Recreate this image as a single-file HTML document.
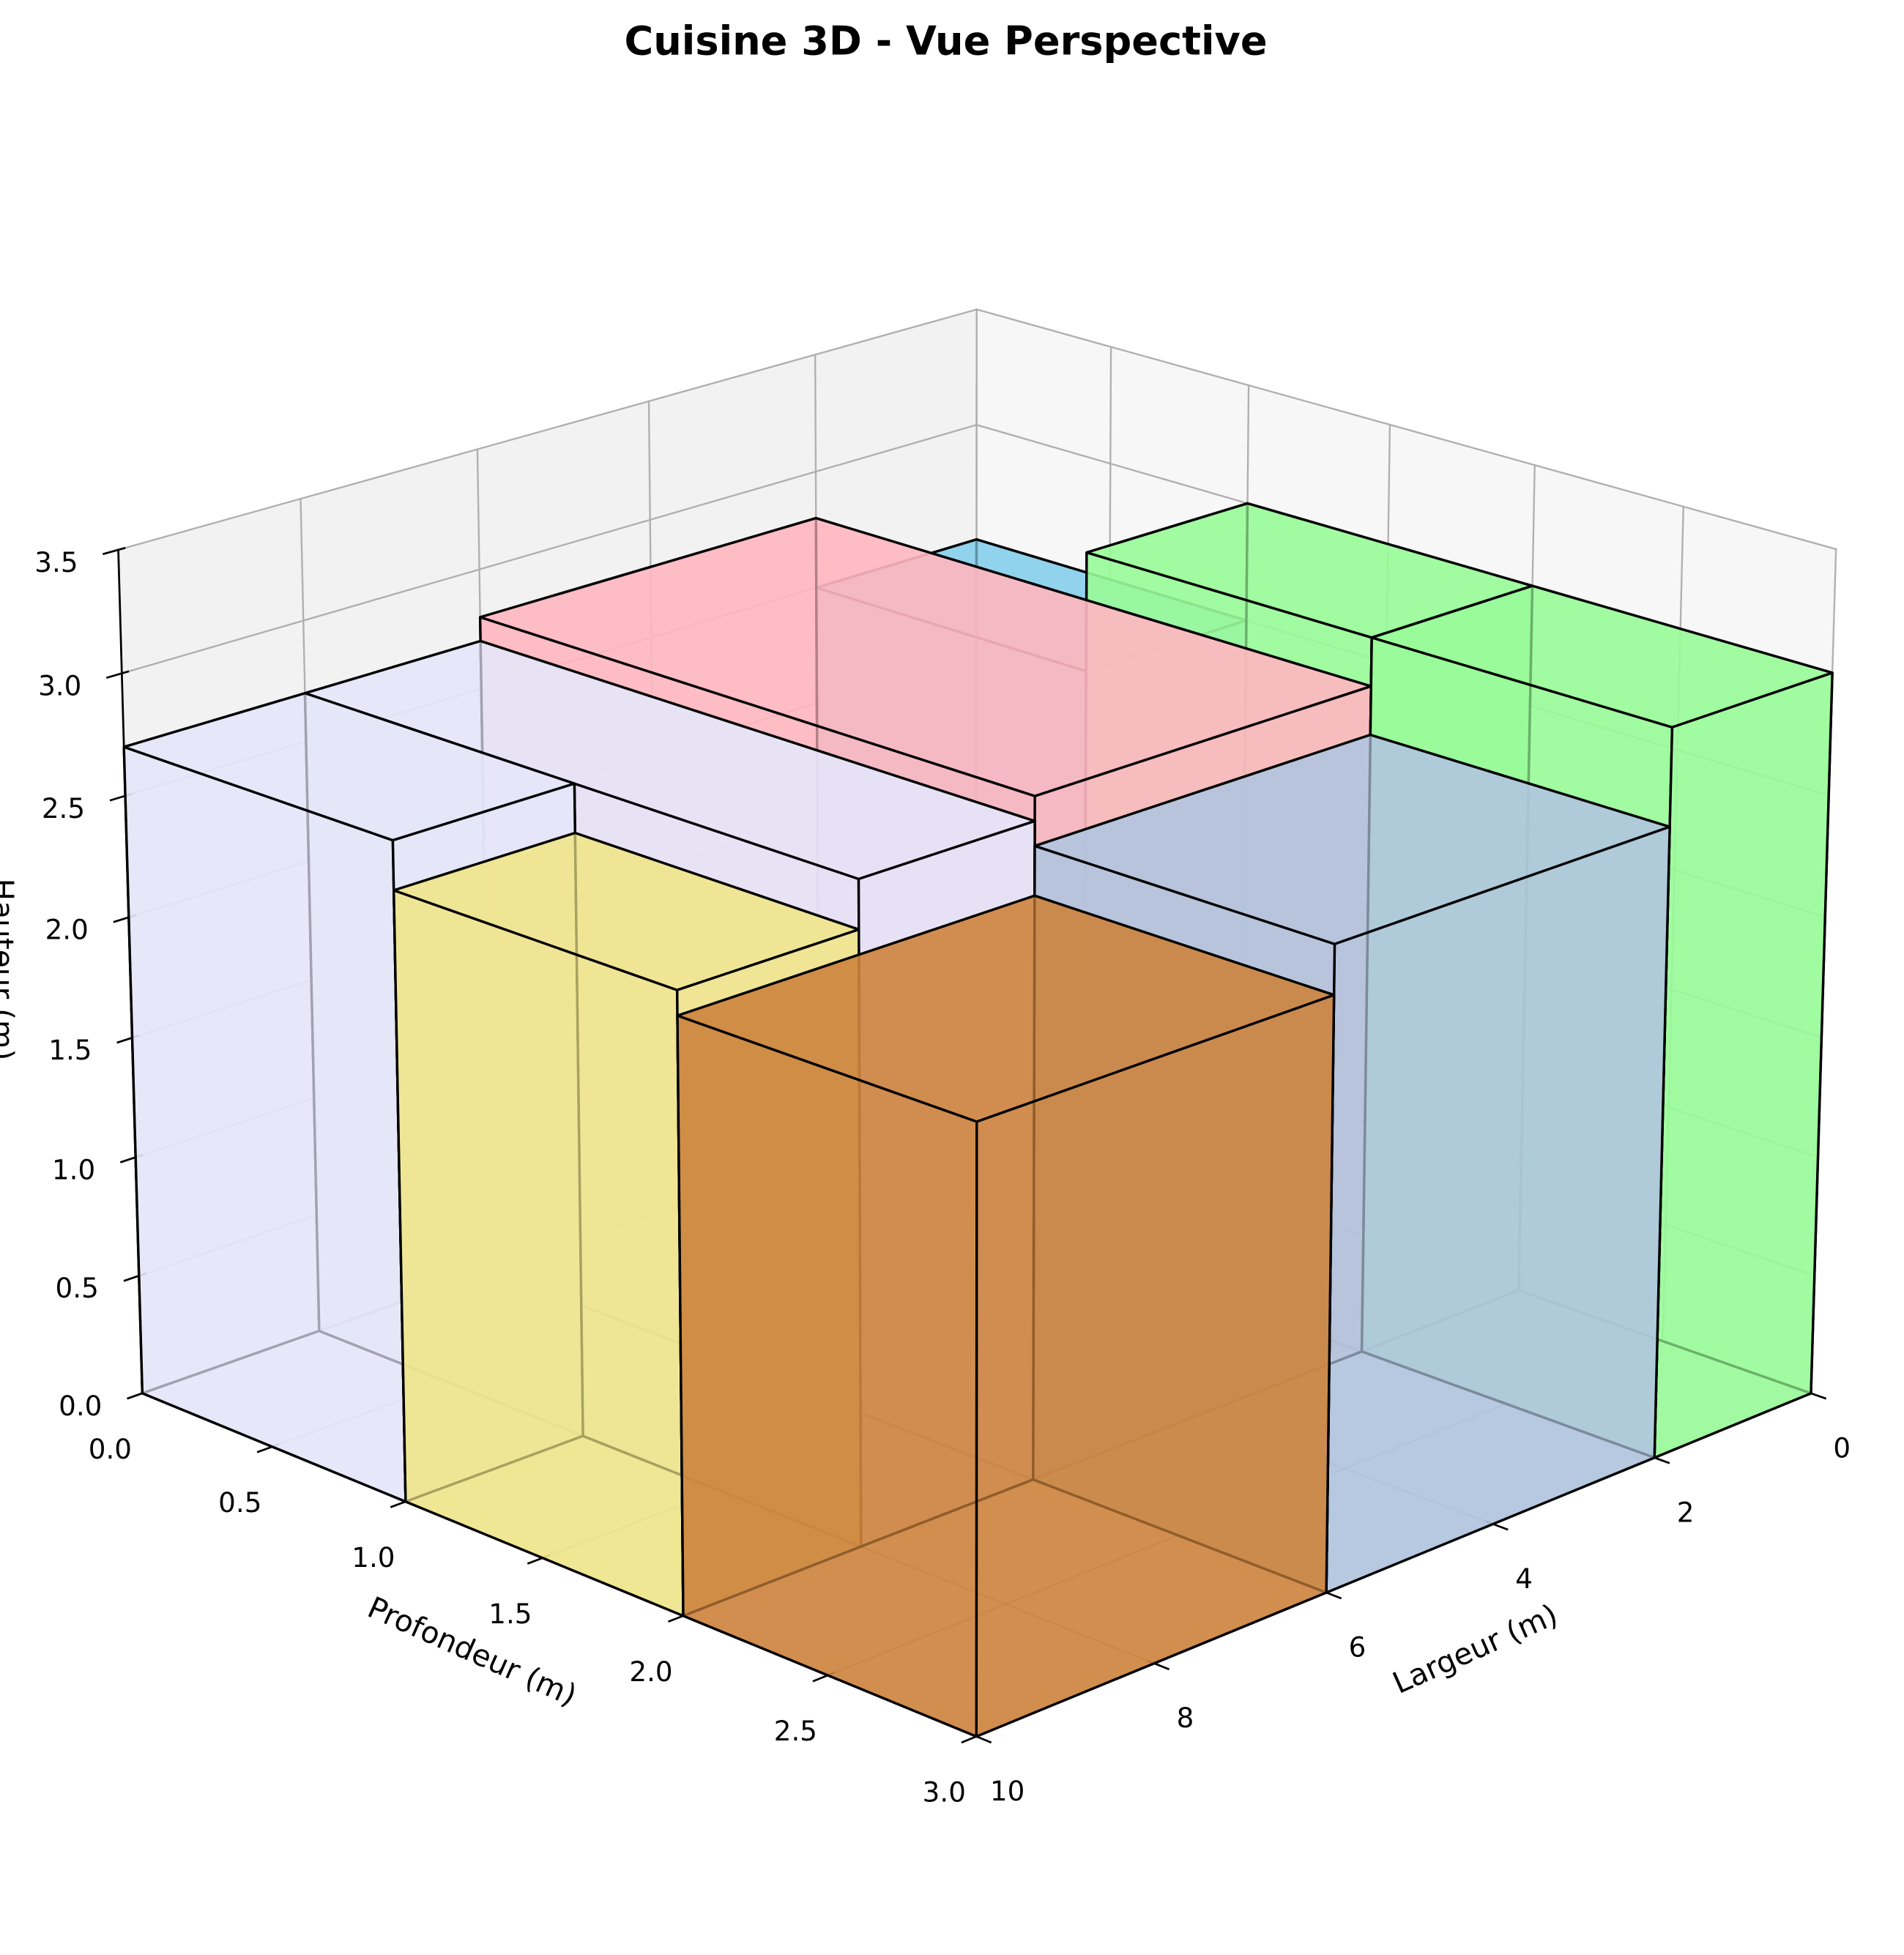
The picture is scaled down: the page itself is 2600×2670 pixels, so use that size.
<!DOCTYPE html>
<html>
<head>
<meta charset="utf-8">
<style>
  html, body { margin: 0; padding: 0; background: #ffffff; }
  #chart { display: block; }
  text { font-family: "DejaVu Sans", "Liberation Sans", sans-serif; fill: #000; }
</style>
</head>
<body>
<svg id="chart" xmlns="http://www.w3.org/2000/svg" width="2600" height="2670" viewBox="0 0 1536 1577" preserveAspectRatio="none">
  <rect x="0" y="0" width="1536" height="1577" fill="#ffffff"/>
  <text x="763" y="44" text-anchor="middle" font-size="32" font-weight="bold">Cuisine 3D - Vue Perspective</text>
  <g id="panes"></g>
  <g id="grid"></g>
  <g id="axes"></g>
  <g id="boxes"></g>
  <g id="labels"></g>
  <text x="381" y="1332" text-anchor="middle" dominant-baseline="central" font-size="24" transform="rotate(24 381 1332)">Profondeur (m)</text>
  <text x="1190" y="1330" text-anchor="middle" dominant-baseline="central" font-size="24" transform="rotate(-24 1190 1330)">Largeur (m)</text>
  <text x="2" y="782" text-anchor="middle" dominant-baseline="central" font-size="24" transform="rotate(90 2 782)">Hauteur (m)</text>
</svg>
<script>
// ---- chart data (kitchen components) ----
const boxLabels = ['lavande-1', 'lavande-2', 'rose', 'bleu-ciel', 'vert-1', 'vert-2', 'acier-clair', 'kaki', 'peru'];
const boxX  = [8, 6, 2, 0, 0, 0, 2, 8, 6];
const boxDX = [2, 2, 4, 2, 2, 2, 4, 2, 4];
const boxY  = [0, 0, 0, 0, 1, 2, 2, 1, 2];
const boxDY = [1, 2, 2, 1, 1, 1, 1, 1, 1];
const boxZ  = [0, 0, 0, 0, 0, 0, 0, 0, 0];
const boxDZ = [2.7, 2.7, 2.8, 2.5, 3.0, 3.0, 2.6, 2.5, 2.4];
const boxColors = ['#E6E6FA', '#E6E6FA', '#FFB6C1', '#87CEEB', '#98FB98', '#98FB98', '#B0C4DE', '#F0E68C', '#CD853F'];
const xTicks = [0, 2, 4, 6, 8, 10];
const xTickLabels = ['0', '2', '4', '6', '8', '10'];
const yTicks = [0, 0.5, 1, 1.5, 2, 2.5, 3];
const yTickLabels = ['0.0', '0.5', '1.0', '1.5', '2.0', '2.5', '3.0'];
const zTicks = [0, 0.5, 1, 1.5, 2, 2.5, 3, 3.5];
const zTickLabels = ['0.0', '0.5', '1.0', '1.5', '2.0', '2.5', '3.0', '3.5'];
const xLim = [0, 10], yLim = [0, 3], zLim = [0, 3.5];

// ---- projection calibration (axis-box corners -> screen) ----
const calibWorld = [[10,0,0],[10,3,0],[0,3,0],[10,0,3.5],[0,0,3.5],[0,3,3.5],[10,1,0],[10,2,0],[10,0,0.5]];
const calibScreen = [[115,1123],[788,1401],[1461,1124],[95.5,443.4],[788,249.5],[1481,443],[327,1211],[551,1303],[112,1030.5]];

function solveLinear(M, b) {
  const n = b.length;
  const A = M.map((r, i) => r.concat([b[i]]));
  for (let c = 0; c < n; c++) {
    let piv = c;
    for (let r = c + 1; r < n; r++) if (Math.abs(A[r][c]) > Math.abs(A[piv][c])) piv = r;
    [A[c], A[piv]] = [A[piv], A[c]];
    for (let r = 0; r < n; r++) {
      if (r === c) continue;
      const f = A[r][c] / A[c][c];
      for (let k = c; k <= n; k++) A[r][k] -= f * A[c][k];
    }
  }
  return A.map((r, i) => r[n] / r[i]);
}
function fitCamera() {
  const rows = [], rhs = [];
  calibWorld.forEach((P, i) => {
    const [X, Y, Z] = P, [u, v] = calibScreen[i];
    rows.push([X, Y, Z, 1, 0, 0, 0, 0, -u * X, -u * Y, -u * Z]); rhs.push(u);
    rows.push([0, 0, 0, 0, X, Y, Z, 1, -v * X, -v * Y, -v * Z]); rhs.push(v);
  });
  const N = 11, AtA = [], Atb = [];
  for (let i = 0; i < N; i++) {
    AtA.push(new Array(N).fill(0)); Atb.push(0);
    for (let r = 0; r < rows.length; r++) {
      Atb[i] += rows[r][i] * rhs[r];
      for (let j = 0; j < N; j++) AtA[i][j] += rows[r][i] * rows[r][j];
    }
  }
  return solveLinear(AtA, Atb);
}
const cam = fitCamera();
function proj(X, Y, Z) {
  const w = cam[8] * X + cam[9] * Y + cam[10] * Z + 1;
  return [(cam[0] * X + cam[1] * Y + cam[2] * Z + cam[3]) / w,
          (cam[4] * X + cam[5] * Y + cam[6] * Z + cam[7]) / w];
}
function depth(X, Y, Z) { return Math.abs(cam[8] * X + cam[9] * Y + cam[10] * Z + 1); }

const NS = 'http://www.w3.org/2000/svg';
function mk(tag, parent) { const e = document.createElementNS(NS, tag); parent.appendChild(e); return e; }
function ptsStr(list) { return list.map(p => { const s = proj(p[0], p[1], p[2]); return s[0].toFixed(2) + ',' + s[1].toFixed(2); }).join(' '); }
function line3(parent, a, b, color, width) {
  const l = mk('line', parent);
  const s = proj(a[0], a[1], a[2]), e = proj(b[0], b[1], b[2]);
  l.setAttribute('x1', s[0]); l.setAttribute('y1', s[1]); l.setAttribute('x2', e[0]); l.setAttribute('y2', e[1]);
  l.setAttribute('stroke', color); l.setAttribute('stroke-width', width); l.setAttribute('stroke-linecap', 'square');
  return l;
}

// ---- panes ----
const panes = document.getElementById('panes');
const paneFloor = mk('polygon', panes);
paneFloor.setAttribute('points', ptsStr([[0,0,0],[10,0,0],[10,3,0],[0,3,0]]));
paneFloor.setAttribute('fill', '#f6f6f6');


const paneLeft = mk('polygon', panes);
paneLeft.setAttribute('points', ptsStr([[0,0,0],[10,0,0],[10,0,3.5],[0,0,3.5]]));
paneLeft.setAttribute('fill', '#f2f2f2');


const paneRight = mk('polygon', panes);
paneRight.setAttribute('points', ptsStr([[0,0,0],[0,3,0],[0,3,3.5],[0,0,3.5]]));
paneRight.setAttribute('fill', '#f7f7f7');



// ---- grid ----
const grid = document.getElementById('grid');
const GC = '#b0b0b0', GW = 1.4;
xTicks.forEach(x => {
  const g1 = line3(grid, [x,0,0], [x,0,3.5], GC, GW);
  
  
  const g2 = line3(grid, [x,0,0], [x,3,0], GC, GW);
  
  
});
yTicks.forEach(y => {
  const g1 = line3(grid, [0,y,0], [0,y,3.5], GC, GW);
  
  
  const g2 = line3(grid, [0,y,0], [10,y,0], GC, GW);
  
  
});
zTicks.forEach(z => {
  const g1 = line3(grid, [0,0,z], [10,0,z], GC, GW);
  
  
  const g2 = line3(grid, [0,0,z], [0,3,z], GC, GW);
  
  
});

// ---- axes lines and ticks ----
const axes = document.getElementById('axes');
const ax1 = line3(axes, [10,0,0], [10,0,3.5], '#000', 1.6);


const ax2 = line3(axes, [10,0,0], [10,3,0], '#000', 1.6);


const ax3 = line3(axes, [10,3,0], [0,3,0], '#000', 1.6);



const labels = document.getElementById('labels');
function tickMark(p3, dir3, name) {
  const p = proj(p3[0], p3[1], p3[2]);
  const q = proj(p3[0] + dir3[0], p3[1] + dir3[1], p3[2] + dir3[2]);
  let dx = q[0] - p[0], dy = q[1] - p[1];
  const L = Math.hypot(dx, dy); dx /= L; dy /= L;
  const t = mk('line', axes);
  t.setAttribute('x1', p[0] - 6 * dx); t.setAttribute('y1', p[1] - 6 * dy);
  t.setAttribute('x2', p[0] + 13 * dx); t.setAttribute('y2', p[1] + 13 * dy);
  t.setAttribute('stroke', '#000'); t.setAttribute('stroke-width', 1.6);
  
  
  return p;
}
function tickLabel(p, ox, oy, txt, name) {
  const t = mk('text', labels);
  t.setAttribute('x', p[0] + ox); t.setAttribute('y', p[1] + oy);
  t.setAttribute('text-anchor', 'middle'); t.setAttribute('dominant-baseline', 'central');
  t.setAttribute('font-size', '22');
  t.textContent = txt;
  
  
}
zTicks.forEach((z, i) => {
  const p = tickMark([10,0,z], [0.5,0,0], 'z-tick');
  tickLabel(p, -50, 10, zTickLabels[i], 'z-tick-label');
});
yTicks.forEach((y, i) => {
  const p = tickMark([10,y,0], [0.5,0,0], 'y-tick');
  tickLabel(p, -26, 45, yTickLabels[i], 'y-tick-label');
});
xTicks.forEach((x, i) => {
  const p = tickMark([x,3,0], [0,0.2,0], 'x-tick');
  tickLabel(p, 25, 44, xTickLabels[i], 'x-tick-label');
});

// ---- boxes (painter's algorithm) ----
const boxesG = document.getElementById('boxes');
const order = boxLabels.map((_, i) => i).sort((a, b) => {
  const da = depth(boxX[a] + boxDX[a] / 2, boxY[a] + boxDY[a] / 2, boxZ[a] + boxDZ[a] / 2);
  const db = depth(boxX[b] + boxDX[b] / 2, boxY[b] + boxDY[b] / 2, boxZ[b] + boxDZ[b] / 2);
  return db - da;
});
order.forEach(i => {
  const x0 = boxX[i], x1 = boxX[i] + boxDX[i];
  const y0 = boxY[i], y1 = boxY[i] + boxDY[i];
  const z0 = boxZ[i], z1 = boxZ[i] + boxDZ[i];
  const g = mk('g', boxesG);
  
  
  const faces = [
    [[x0,y0,z0],[x1,y0,z0],[x1,y1,z0],[x0,y1,z0]],
    [[x0,y0,z1],[x1,y0,z1],[x1,y1,z1],[x0,y1,z1]],
    [[x0,y0,z0],[x1,y0,z0],[x1,y0,z1],[x0,y0,z1]],
    [[x0,y1,z0],[x1,y1,z0],[x1,y1,z1],[x0,y1,z1]],
    [[x0,y0,z0],[x0,y1,z0],[x0,y1,z1],[x0,y0,z1]],
    [[x1,y0,z0],[x1,y1,z0],[x1,y1,z1],[x1,y0,z1]]
  ];
  faces.map(f => ({ f, d: depth(...[0,1,2].map(k => (f[0][k] + f[1][k] + f[2][k] + f[3][k]) / 4)) }))
    .sort((a, b) => b.d - a.d)
    .forEach(o => {
      const p = mk('polygon', g);
      p.setAttribute('points', ptsStr(o.f));
      p.setAttribute('fill', boxColors[i]);
      p.setAttribute('fill-opacity', '0.7');
      p.setAttribute('stroke', '#000');
      p.setAttribute('stroke-width', '2');
      p.setAttribute('stroke-linejoin', 'round');
      
      
    });
});
</script>
</body>
</html>
